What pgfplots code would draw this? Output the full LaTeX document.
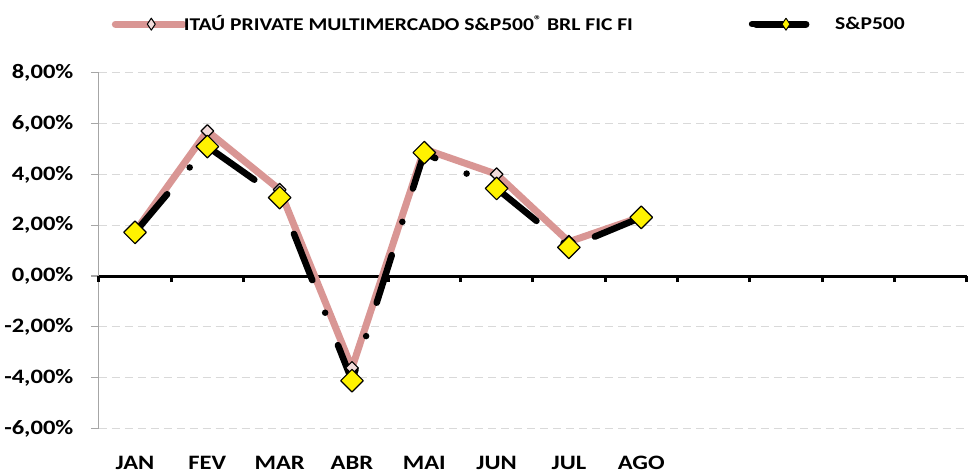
\documentclass[border=0pt]{standalone}
\usepackage{fontspec}
\setmainfont[FakeStretch=1.2]{Carlito}
\usepackage{pgfplots}
\pgfplotsset{compat=1.18}
\definecolor{fundo}{HTML}{D99694}
\definecolor{fundofill}{HTML}{F2DCDB}
\definecolor{gridc}{HTML}{D9D9D9}
\definecolor{axisgray}{HTML}{A6A6A6}

\pgfplotsset{
  base/.style={
    scale only axis, width=869pt, height=356pt,
    xmin=0.5, xmax=12.5, ymin=-6, ymax=8,
    at={(99pt,44pt)}, anchor=south west,
  }
}

\begin{document}
\begin{tikzpicture}
\path (0,0) rectangle (970pt,473pt);

% grid, labels, y axis
\begin{axis}[base,
  axis y line*=left, axis x line*=bottom,
  x axis line style={draw=none},
  y axis line style={axisgray, line width=1.2pt, -},
  ytick={-6,-4,...,8},
  yticklabels={{-6,00\%},{-4,00\%},{-2,00\%},{0,00\%},{2,00\%},{4,00\%},{6,00\%},{8,00\%}},
  xtick={1,...,8},
  xticklabels={JAN,FEV,MAR,ABR,MAI,JUN,JUL,AGO},
  xtick style={draw=none},
  ytick style={axisgray, line width=1.2pt},
  tick align=outside, major tick length=8pt,
  ymajorgrids, grid style={gridc, line width=1.2pt, dash pattern=on 8pt off 5pt},
  every tick label/.append style={font=\bfseries\fontsize{20.5}{24}\selectfont},
  yticklabel style={xshift=-14pt},
  xticklabel style={yshift=-16pt},
]
\end{axis}

% zero line and data
\begin{axis}[base,
  axis x line=middle, axis y line=none,
  xtick={0.5,1.5,...,12.5}, xticklabels={}, ytick=\empty,
  x axis line style={black, line width=3pt, -},
  xtick style={black, line width=3pt},
  tick align=outside, major tick length=6pt,
  clip=false,
  legend columns=2,
  legend style={draw=none, fill=none, at={(0.473,1.137)}, anchor=center,
    font=\bfseries\fontsize{18}{22}\selectfont,
    /tikz/every even column/.append style={column sep=114pt}},
]
\addplot[fundo, line width=7pt, line join=round, line cap=round,
  mark=square*, mark size=4.5pt,
  mark options={rotate=45, solid, draw=black, fill=fundofill, line width=1.2pt},
  legend image code/.code={
    \path (-4pt,0pt) -- (59pt,0pt);
    \draw[overlay, fundo, line width=7pt, line cap=round] (0pt,0pt) -- (64pt,0pt);
    \draw[overlay, black, fill=fundofill, line width=1pt] (32pt,6pt) -- (36pt,0pt) -- (32pt,-6pt) -- (28pt,0pt) -- cycle;
  }]
  coordinates {(1,1.75)(2,5.71)(3,3.40)(4,-3.62)(5,5.00)(6,4.01)(7,1.35)(8,2.33)};
\addlegendentry{ITAÚ PRIVATE MULTIMERCADO S\&P500\textsuperscript{®} BRL FIC FI}

\addplot[black, line width=6.5pt, line join=round, line cap=round,
  dash pattern=on 50pt off 35pt on 0pt off 35pt,
  mark=square*, mark size=8pt,
  mark options={rotate=45, solid, draw=black, fill=yellow, line width=1.2pt},
  legend image code/.code={
    \path (-4pt,0pt) -- (74pt,0pt);
    \draw[black, line width=7pt, line cap=round] (0pt,0pt) -- (61pt,0pt);
    \draw[black, fill=yellow, line width=1pt] (30pt,6pt) -- (34pt,0pt) -- (30pt,-6pt) -- (26pt,0pt) -- cycle;
  }]
  coordinates {(1,1.72)(2,5.10)(3,3.09)(4,-4.12)(5,4.86)(6,3.45)(7,1.13)(8,2.31)};
\addlegendentry{S\&P500}
\end{axis}
\end{tikzpicture}
\end{document}
